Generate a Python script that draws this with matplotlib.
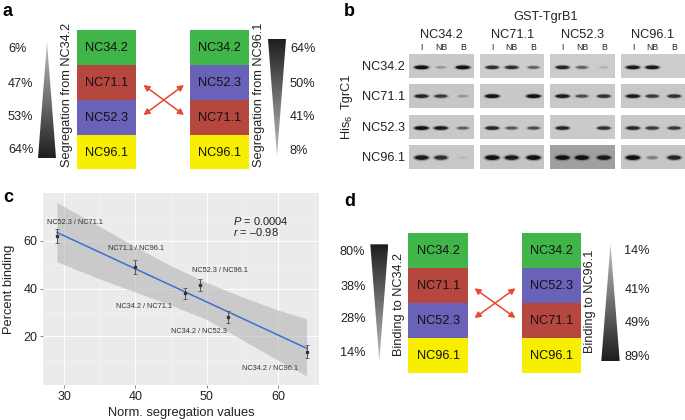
import numpy as np
import matplotlib
matplotlib.use("Agg")
import matplotlib.pyplot as plt
from matplotlib.patches import Rectangle, Polygon, Ellipse

plt.rcParams["font.family"] = ["Liberation Sans", "DejaVu Sans"]
plt.rcParams["mathtext.fontset"] = "custom"
plt.rcParams["mathtext.rm"] = "Liberation Sans"
plt.rcParams["mathtext.it"] = "Liberation Sans:italic"

# === Daten ===
seg_x = [29, 40, 47, 49, 53, 64]
seg_y = [62, 49, 38, 41.5, 28, 13.5]
seg_err = [2.8, 2.9, 2.2, 2.5, 2.5, 2.8]
pair_labels = ["NC52.3 / NC71.1", "NC71.1 / NC96.1", "NC34.2 / NC71.1",
               "NC52.3 / NC96.1", "NC34.2 / NC52.3", "NC34.2 / NC96.1"]
fit_x = [29, 64]
fit_y = [63.5, 15]
band_x = [29, 35, 40, 45, 50, 55, 60, 64]
band_hi = [76, 66, 57.5, 49.5, 42.5, 36.5, 31, 27.3]
band_lo = [51.2, 44, 38.5, 33, 27, 18.5, 10, 3.4]
x_ticks = [30, 40, 50, 60]
y_ticks = [20, 40, 60]

order_a = ["NC34.2", "NC71.1", "NC52.3", "NC96.1"]
order_b = ["NC34.2", "NC52.3", "NC71.1", "NC96.1"]
strain_colors = {"NC34.2": "#3fb54a", "NC71.1": "#b5473f", "NC52.3": "#6a62b8", "NC96.1": "#f8ee00"}
seg_left = ["6%", "47%", "53%", "64%"]
seg_right = ["64%", "50%", "41%", "8%"]
bind_left = ["80%", "38%", "28%", "14%"]
bind_right = ["14%", "41%", "49%", "89%"]

blot_strains = ["NC34.2", "NC71.1", "NC52.3", "NC96.1"]
lanes = ["I", "NB", "B"]
# Bandenstaerke je Zeile / Spalte / Spur
blot_levels = [
    [[1, .35, 1], [.85, .85, .6], [.9, .6, .2], [.95, .95, 0]],
    [[.9, .8, .35], [1, 0, 1], [.95, .7, .85], [.95, .8, .85]],
    [[1, .95, .6], [.9, .65, .7], [.9, 0, .85], [.9, .8, .8]],
    [[.95, .85, .12], [1, .95, 1], [1, 1, .95], [1, .45, .9]],
]
blot_bg = [
    ["#c9c9c9", "#cdcdcd", "#cccccc", "#cccccc"],
    ["#c6c6c6", "#c8c8c8", "#c8c8c8", "#c8c8c8"],
    ["#c8c8c8", "#cacaca", "#cacaca", "#c8c8c8"],
    ["#c8c8c8", "#c4c4c4", "#a0a0a0", "#c6c6c6"],
]

fig = plt.figure(figsize=(6.85, 4.2), dpi=100)

# Ebene in Pixelkoordinaten fuer die Schemata
bg = fig.add_axes([0, 0, 1, 1])
bg.set_xlim(0, 685)
bg.set_ylim(420, 0)
bg.axis("off")


def stack(x0, x1, ys, names):
    for i, name in enumerate(names):
        bg.add_patch(Rectangle((x0, ys[i]), x1 - x0, ys[i + 1] - ys[i], color=strain_colors[name], lw=0))
        bg.text((x0 + x1) / 2, (ys[i] + ys[i + 1]) / 2 + 0.5, name, ha="center", va="center", fontsize=9.2, color="#111111")


def wedge(x0, x1, y0, y1, apex_top):
    # Dreieck mit Verlauf, dunkel an der Basis
    xm = (x0 + x1) / 2
    grad = np.linspace(0.75, 0.12, 100).reshape(-1, 1) if apex_top else np.linspace(0.12, 0.75, 100).reshape(-1, 1)
    im = bg.imshow(grad, extent=[x0, x1, y1, y0], cmap="gray", vmin=0, vmax=1, aspect="auto", zorder=2)
    pts = [(xm, y0), (x0, y1), (x1, y1)] if apex_top else [(x0, y0), (x1, y0), (xm, y1)]
    tri = Polygon(pts, transform=bg.transData, fc="none", ec="none")
    bg.add_patch(tri)
    im.set_clip_path(tri)


def cross(x0, x1, y0, y1):
    style = dict(arrowstyle="<|-|>,head_length=0.35,head_width=0.18", color="#e8492f", lw=1.1, shrinkA=0, shrinkB=0)
    bg.annotate("", xy=(x1, y1), xytext=(x0, y0), arrowprops=style)
    bg.annotate("", xy=(x1, y0), xytext=(x0, y1), arrowprops=style)


def pct(x, ys, labels, ha="left"):
    for y, lab in zip(ys, labels):
        bg.text(x, y, lab, ha=ha, va="center", fontsize=9.2, color="#222222")


# === Panel a ===
ys_a = [30.3, 65, 100, 134.7, 169.3]
stack(77.3, 136, ys_a, order_a)
stack(190.3, 249.3, ys_a, order_b)
wedge(38, 56, 42, 158, True)
wedge(268, 286, 39, 155.7, False)
cross(143.5, 184, 85, 115)
pct(8, [48.5, 84, 117, 150], seg_left)
pct(290, [48.5, 84, 117, 151.5], seg_right)
bg.text(67, 95, "Segregation from NC34.2", rotation=90, ha="center", va="center", fontsize=9.2, color="#222222")
bg.text(259, 95, "Segregation from NC96.1", rotation=90, ha="center", va="center", fontsize=9.2, color="#222222")

# === Panel d ===
ys_d = [233.3, 268.3, 303.3, 338, 372.7]
stack(408.3, 468, ys_d, order_a)
stack(521.7, 581, ys_d, order_b)
wedge(370.3, 388.3, 244.3, 361, False)
wedge(601.3, 619.7, 244, 361, True)
cross(474.5, 515.5, 288.3, 318)
pct(365.5, [252, 287, 319.5, 353], bind_left, ha="right")
pct(624.5, [251, 290, 323, 357.5], bind_right)
bg.text(399.5, 304, "Binding to NC34.2", rotation=90, ha="center", va="center", fontsize=9.2, color="#222222")
bg.text(590.5, 301, "Binding to NC96.1", rotation=90, ha="center", va="center", fontsize=9.2, color="#222222")

# === Panel b ===
col_x = [409.3, 480, 550.3, 620.7]
row_y = [54, 84, 114.7, 145]
row_mid = [.55, .5, .55, .52]
lane_pos = [.19, .49, .83]
blot_w = 64.5
blot_h = 24.3
for r, ry in enumerate(row_y):
    bg.text(405, ry + 13, blot_strains[r], ha="right", va="center", fontsize=9.2, color="#222222")
    for c, cx in enumerate(col_x):
        bg.add_patch(Rectangle((cx, ry), blot_w, blot_h, color=blot_bg[r][c], lw=0))
        for l, pos in enumerate(lane_pos):
            s = blot_levels[r][c][l]
            if s == 0:
                continue
            xc = cx + pos * blot_w
            yc = ry + row_mid[r] * blot_h
            thick = 6.5 if r == 3 else 5.2
            bg.add_patch(Ellipse((xc, yc), 18 * (.55 + .45 * s), thick * (.5 + .6 * s), color="#555555", alpha=.45 * s, lw=0))
            bg.add_patch(Ellipse((xc, yc), 14 * (.5 + .5 * s), thick * .7 * (.4 + .6 * s), color="#111111", alpha=s ** 1.5, lw=0))
for c, cx in enumerate(col_x):
    bg.text(cx + blot_w / 2, 35.5, blot_strains[c], ha="center", va="center", fontsize=9.2, color="#222222")
    for l, pos in enumerate(lane_pos):
        bg.text(cx + pos * blot_w, 48, lanes[l], ha="center", va="center", fontsize=6.3, color="#222222")
bg.text(546, 17, "GST-TgrB1", ha="center", va="center", fontsize=9.2, color="#222222")
bg.text(347, 91, "TgrC1", rotation=90, ha="center", va="center", fontsize=9.2, color="#222222")
bg.text(347, 127, "His$_6$", rotation=90, ha="center", va="center", fontsize=9.2, color="#222222")

# Panelbuchstaben
for lab, x, y in [("a", 3, 11), ("b", 344, 11), ("c", 3, 197), ("d", 344, 201)]:
    bg.text(x, y, lab, ha="left", va="center", fontsize=13, fontweight="bold", color="black")

# === Panel c ===
ax = fig.add_axes([43 / 685, 1 - 385 / 420, 276 / 685, 192 / 420])
ax.set_facecolor("#ebebeb")
ax.set_xlim(27.05, 65.75)
ax.set_ylim(-0.4, 80)
ax.grid(True, which="major", color="white", lw=0.7)
ax.set_xticks([35, 45, 55, 65], minor=True)
ax.set_yticks([10, 30, 50, 70], minor=True)
ax.grid(True, which="minor", color="#f5f5f5", lw=0.4)
ax.set_axisbelow(True)
for sp in ax.spines.values():
    sp.set_visible(False)
ax.fill_between(band_x, band_lo, band_hi, color="#b5b5b5", alpha=0.6, lw=0)
ax.plot(fit_x, fit_y, color="#3d6fd0", lw=1.1)
ax.errorbar(seg_x, seg_y, yerr=seg_err, fmt="s", ms=1.8, color="#333333", ecolor="#555555", elinewidth=0.7, capsize=1.6, capthick=0.6)
ax.set_xticks(x_ticks)
ax.set_yticks(y_ticks)
ax.tick_params(axis="both", which="major", labelsize=9, length=2, width=0.5, color="#555555", labelcolor="#222222", pad=2)
ax.tick_params(axis="both", which="minor", length=0)
ax.set_xlabel("Norm. segregation values", fontsize=9.3, color="#222222", labelpad=3.5)
ax.set_ylabel("Percent binding", fontsize=9.3, color="#222222", labelpad=6)

# Beschriftungen der Punkte, Pixelposition im Bild
label_px = [(74.7, 222), (136, 248), (143.7, 306), (220, 271), (198.7, 331.7), (270, 368)]
for (px, py), lab in zip(label_px, pair_labels):
    ax.annotate(lab, xy=(px / 685, 1 - py / 420), xycoords="figure fraction", ha="center", va="center", fontsize=5.3, color="#333333")
ax.annotate("$\\mathit{P}$ = 0.0004", xy=(232.7 / 685, 1 - 221 / 420), xycoords="figure fraction", ha="left", va="center", fontsize=8, color="#222222")
ax.annotate("$\\mathit{r}$ = –0.98", xy=(232.7 / 685, 1 - 232 / 420), xycoords="figure fraction", ha="left", va="center", fontsize=8, color="#222222")

fig.savefig("out.png", dpi=100)
